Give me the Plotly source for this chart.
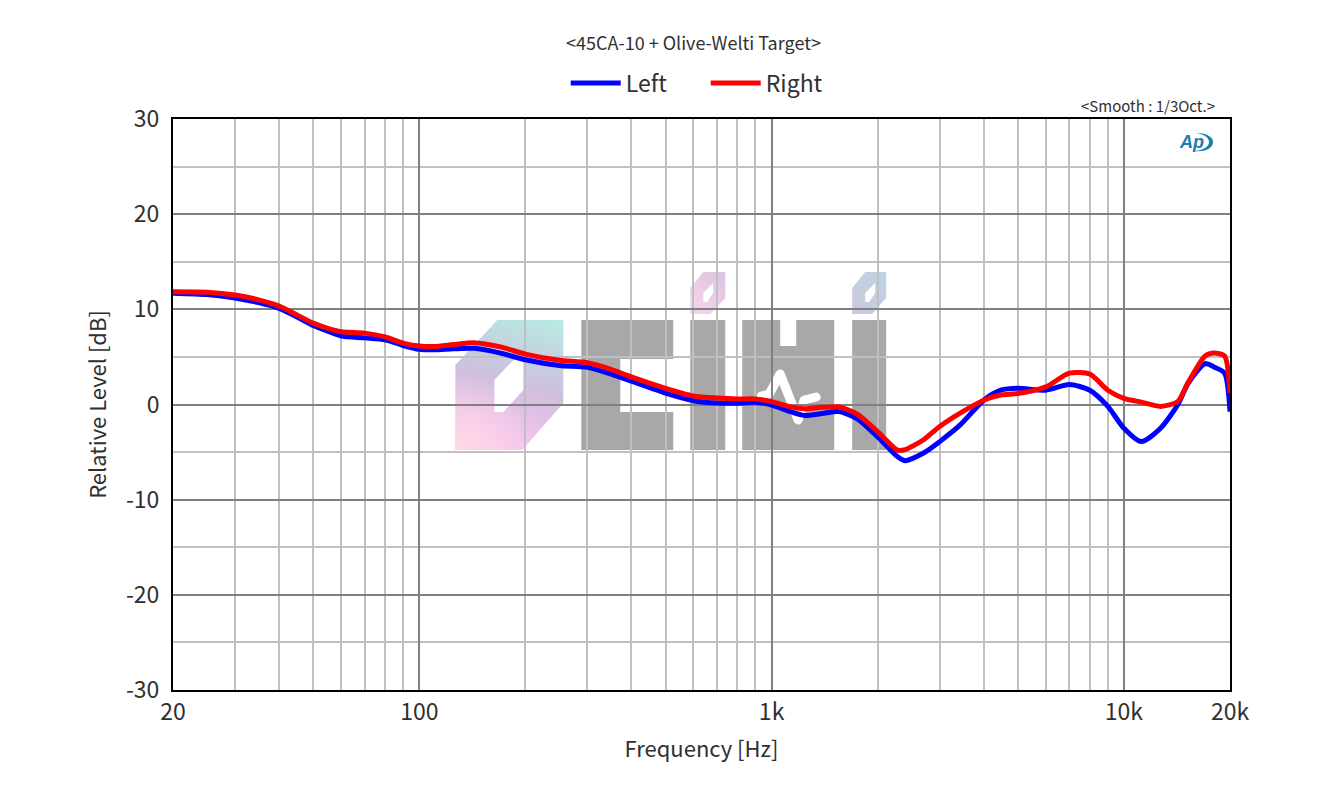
import base64
import plotly.graph_objects as go

FONT = "Noto Sans CJK KR"

freqs = [20, 25, 30, 35, 40, 45, 50, 55, 60, 70, 80, 90, 100, 110, 125, 143, 170, 200, 250, 300,
         350, 400, 500, 600, 700, 800, 900, 1000, 1130, 1240, 1390, 1550, 1750, 2000, 2280, 2390,
         2700, 3000, 3430, 4000, 4470, 5000, 6000, 7000, 8000, 9000, 10000, 11200, 12700, 14200,
         15200, 17000, 18000, 19300, 20000]
left = [11.7, 11.55, 11.2, 10.7, 10.1, 9.2, 8.3, 7.7, 7.2, 7.0, 6.8, 6.2, 5.8, 5.75, 5.85, 5.9, 5.4,
        4.7, 4.1, 3.9, 3.2, 2.45, 1.2, 0.4, 0.15, 0.13, 0.23, -0.05, -0.75, -1.15, -0.95, -0.75, -1.5,
        -3.4, -5.5, -5.9, -5.1, -3.9, -2.15, 0.45, 1.5, 1.7, 1.5, 2.1, 1.5, -0.2, -2.5, -3.9, -2.5,
        -0.05, 2.2, 4.3, 3.95, 3.3, -0.75]
right = [11.85, 11.8, 11.5, 11.0, 10.35, 9.4, 8.55, 8.0, 7.65, 7.5, 7.1, 6.45, 6.15, 6.1, 6.3, 6.5, 6.05,
         5.3, 4.65, 4.4, 3.7, 2.9, 1.7, 0.9, 0.68, 0.58, 0.58, 0.3, -0.25, -0.45, -0.3, -0.25, -1.0,
         -2.85, -4.8, -4.75, -3.7, -2.3, -0.9, 0.45, 1.0, 1.15, 1.85, 3.3, 3.2, 1.5, 0.65, 0.25, -0.2,
         0.3, 2.3, 5.1, 5.4, 5.1, 1.2]

x_ticks = [20, 100, 1000, 10000, 20000]
x_labels = ["20", "100", "1k", "10k", "20k"]
x_minor = [30, 40, 50, 60, 70, 80, 90, 200, 300, 400, 500, 600, 700, 800, 900,
           2000, 3000, 4000, 5000, 6000, 7000, 8000, 9000]
y_ticks = [-30, -20, -10, 0, 10, 20, 30]
y_labels = ["-30", "-20", "-10", "0", "10", "20", "30"]
y_minor = [-25, -15, -5, 5, 15, 25]

# watermark + Ap swoosh, viewBox is the plot area in page pixels
svg = """<svg xmlns="http://www.w3.org/2000/svg" viewBox="172.5 119 1057.5 571" preserveAspectRatio="none">
<defs>
<linearGradient id="a" gradientUnits="userSpaceOnUse" x1="505" y1="450" x2="540" y2="320">
<stop offset="0" stop-color="#fcc4f0"/><stop offset="0.5" stop-color="#cfbfdf"/>
<stop offset="1" stop-color="#b8e8e2"/></linearGradient>
<radialGradient id="p" gradientUnits="userSpaceOnUse" cx="462" cy="445" r="70">
<stop offset="0" stop-color="#ffd8e2"/><stop offset="1" stop-color="#ffd8e8" stop-opacity="0"/></radialGradient>
<linearGradient id="b" gradientUnits="userSpaceOnUse" x1="690" y1="314" x2="725" y2="272">
<stop offset="0" stop-color="#fbd4ee"/><stop offset="1" stop-color="#d8c4e0"/></linearGradient>
<linearGradient id="c" gradientUnits="userSpaceOnUse" x1="852" y1="314" x2="886" y2="272">
<stop offset="0" stop-color="#cbc8e0"/><stop offset="1" stop-color="#bcd4e0"/></linearGradient>
</defs>
<path fill="url(#a)" fill-rule="evenodd" d="M497 320L455 365V450H522L563 403V320ZM494 380L515 358H523V390L503 412H494Z"/>
<path fill="url(#p)" fill-rule="evenodd" d="M497 320L455 365V450H522L563 403V320ZM494 380L515 358H523V390L503 412H494Z"/>
<g fill="#a8a8a8">
<path d="M581 320H673V359H620V412H673V450H581Z"/>
<rect x="690" y="320" width="35" height="130"/>
<path d="M742 320H780V346H796V320H834V450H742Z"/>
<rect x="852" y="320" width="34" height="130"/>
</g>
<path fill="url(#b)" fill-rule="evenodd" d="M703 272H725V298L710 314H690V288ZM703 293L713 283V293L707 302H703Z"/>
<path fill="url(#c)" fill-rule="evenodd" d="M865 272H886V298L872 314H852V288ZM865 293L875 283V293L869 302H865Z"/>
<path fill="none" stroke="#ffffff" stroke-width="9" stroke-linecap="round" stroke-linejoin="round"
 d="M761 396L769 394L780 374L798 420L804 400L816 397"/>
<path fill="#1a7fb0" d="M1196 133C1208 133 1214 138 1213 143C1212 149 1204 152 1195 151C1203 150 1209 147 1209 142C1209 137 1203 134 1196 133Z"/>
</svg>"""
svg_uri = "data:image/svg+xml;base64," + base64.b64encode(svg.encode()).decode()

fig = go.Figure()
fig.add_trace(go.Scatter(x=freqs, y=left, mode="lines", name="Left",
                         line=dict(color="#0000ff", width=5, shape="spline", smoothing=0.7)))
fig.add_trace(go.Scatter(x=freqs, y=right, mode="lines", name="Right",
                         line=dict(color="#ff0000", width=5, shape="spline", smoothing=0.7)))

fig.update_xaxes(
    type="log", range=[1.30103, 4.30103], tickmode="array", tickvals=x_ticks, ticktext=x_labels,
    showgrid=True, gridcolor="#808080", gridwidth=2, showline=True, mirror=True, linecolor="black",
    linewidth=2, ticks="", zeroline=False, tickfont=dict(size=23, color="#303030"),
    title=dict(text="Frequency [Hz]", font=dict(size=22, color="#303030"), standoff=16),
    minor=dict(tickmode="array", tickvals=x_minor, showgrid=True, gridcolor="#c0c0c0", gridwidth=2, ticks=""),
)
fig.update_yaxes(
    range=[-30, 30], tickmode="array", tickvals=y_ticks, ticktext=y_labels,
    showgrid=True, gridcolor="#808080", gridwidth=2, showline=True, mirror=True, linecolor="black",
    linewidth=2, ticks="", zeroline=False, tickfont=dict(size=23, color="#303030"), ticklabelstandoff=7,
    title=dict(text="Relative Level [dB]", font=dict(size=22, color="#303030"), standoff=13),
    minor=dict(tickmode="array", tickvals=y_minor, showgrid=True, gridcolor="#c0c0c0", gridwidth=2, ticks=""),
)
fig.update_layout(
    width=1323, height=794, margin=dict(l=172.5, r=93, t=119, b=104),
    paper_bgcolor="white", plot_bgcolor="rgba(0,0,0,0)",
    font=dict(family=FONT, color="#303030"),
    showlegend=True,
    legend=dict(orientation="h", x=0.504, y=1.0255, xanchor="center", yanchor="bottom",
                itemwidth=50, entrywidth=75, font=dict(size=23, color="#303030"), bgcolor="rgba(0,0,0,0)"),
    images=[dict(source=svg_uri, xref="paper", yref="paper", x=0, y=1, sizex=1, sizey=1,
                 sizing="stretch", xanchor="left", yanchor="top", layer="below")],
    annotations=[
        dict(text="<45CA-10 + Olive-Welti Target>", xref="paper", yref="paper", x=0.492, y=1.135,
             yanchor="middle", showarrow=False, font=dict(size=18, color="#303030")),
        dict(text="<Smooth : 1/3Oct.>", xref="paper", yref="paper", x=0.988, y=1.0245, xanchor="right",
             yanchor="middle", showarrow=False, font=dict(size=15, color="#303030")),
        dict(text="<b><i>Ap</i></b>", xref="paper", yref="paper", x=0.9635, y=0.96, xanchor="center",
             yanchor="middle", showarrow=False, font=dict(size=18, color="#1a7fb0", family="Liberation Sans")),
    ],
)
fig.write_html("out.html", config=dict(displayModeBar=False), post_script="document.body.style.margin='0';")
